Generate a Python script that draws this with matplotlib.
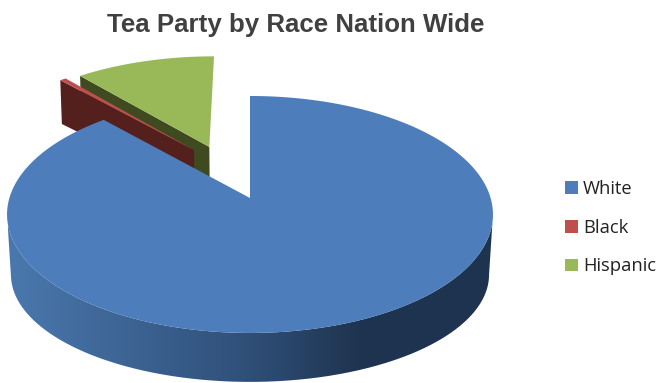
import numpy as np
import matplotlib
matplotlib.use("Agg")
import matplotlib.pyplot as plt
from matplotlib.patches import Patch, PathPatch
from matplotlib.path import Path
from matplotlib.colors import LinearSegmentedColormap

categories = ["White", "Black", "Hispanic"]
values = [88.3, 0.5, 11.2]
top_colors = ["#4d7ebb", "#bf4f4d", "#99b958"]
wall_colors = [None, "#53201e", "#3f4a20"]
title = "Tea Party by Race Nation Wide"

# 3D-look projection settings (pixels)
CX, CY = 250.0, 198.0
A, B, K = 116.2, 240.6, 0.139
DEPTH, SHRINK, YSHRINK = 62.0, 0.016, 0.08
offsets = [(0.0, 0.0), (-0.247, 0.438), (-0.18, 0.468)]
EXPLODED_Z = 0.6


def project(u, v, z=0.0):
    u, v = np.asarray(u, float), np.asarray(v, float)
    d = 1 + K * v + SHRINK * z
    return CX + B * u / d, CY - A * v / d * (1 - YSHRINK * z) + DEPTH * z


fig = plt.figure(figsize=(6.59, 3.83), dpi=100, facecolor="white")
ax = fig.add_axes([0, 0, 1, 1])
ax.set_xlim(0, 659)
ax.set_ylim(383, 0)
ax.axis("off")

ends = np.cumsum(values) / np.sum(values) * 2 * np.pi
starts = np.r_[0, ends[:-1]]


def sector(i, n=200):
    t = np.linspace(starts[i], ends[i], n)
    ou, ov = offsets[i]
    return ou, ov, ou + np.sin(t), ov + np.cos(t)


# exploded slices: cut wall first, then top surface (Hispanic, then Black)
for i, zo in ((2, 2), (1, 3)):
    ou, ov, u, v = sector(i)
    x0, y0 = project(ou, ov)
    x1, y1 = project(u[0], v[0])
    x2, y2 = project(u[0], v[0], EXPLODED_Z)
    x3, y3 = project(ou, ov, EXPLODED_Z)
    ax.fill([x0, x1, x2, x3], [y0, y1, y2, y3], color=wall_colors[i], lw=0, zorder=zo)
    sx, sy = project(np.r_[ou, u], np.r_[ov, v])
    ax.fill(sx, sy, color=top_colors[i], lw=0, zorder=zo + 0.1)


# White slice: curved outer wall, from each rim's widest point, shaded left to right
def front_rim(z):
    t = np.linspace(0, 2 * np.pi, 1441)
    x, y = project(np.sin(t), np.cos(t), z)
    i_right, i_left = np.argmax(x), np.argmin(x)
    return x[i_right:i_left + 1], y[i_right:i_left + 1]


xt, yt = front_rim(0)
xb, yb = front_rim(1)
wall_path = Path(np.column_stack([np.r_[xt, xb[::-1]], np.r_[yt, yb[::-1]]]), closed=False)
wall_patch = PathPatch(wall_path, facecolor="none", edgecolor="none", transform=ax.transData)
ax.add_patch(wall_patch)
cmap = LinearSegmentedColormap.from_list(
    "wall", [(0.0, "#4a78ae"), (0.5, "#2f4f78"), (0.72, "#1f3450"), (1.0, "#1e334f")])
img = ax.imshow(np.linspace(0, 1, 256)[None, :], cmap=cmap, aspect="auto",
                extent=(8, 494, 383, 150), zorder=4, interpolation="bilinear")
img.set_clip_path(wall_patch)
ax.set_xlim(0, 659)
ax.set_ylim(383, 0)

ou, ov, u, v = sector(0, 500)
sx, sy = project(np.r_[ou, u, ou], np.r_[ov, v, ov])
ax.fill(sx, sy, color=top_colors[0], lw=0, zorder=5)

ax.text(296, 25, title, ha="center", va="center", fontsize=18.6, fontweight="bold",
        family="Liberation Sans", color="#404040")

handles = [Patch(facecolor=c, edgecolor="none") for c in top_colors]
ax.legend(handles, categories, loc="upper left", bbox_to_anchor=(559.5, 174.5),
          bbox_transform=ax.transData, frameon=False, prop={"family": "Open Sans", "size": 13.2},
          labelspacing=1.13, handlelength=0.71, handleheight=0.71, handletextpad=0.27,
          borderpad=0.3, borderaxespad=0, labelcolor="#222222")

fig.savefig("out.png", dpi=100)
